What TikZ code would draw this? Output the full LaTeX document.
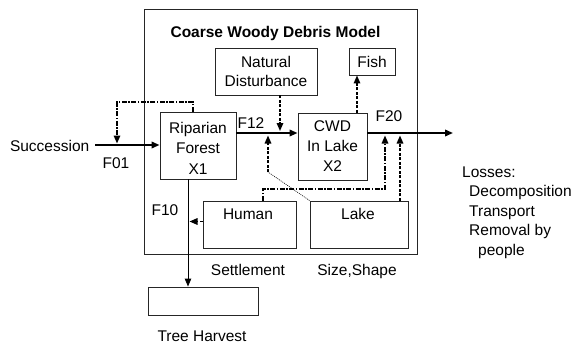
\documentclass[tikz,border=0pt]{standalone}
\usepackage{fontspec}
\setmainfont{Liberation Sans}
\usetikzlibrary{arrows.meta,calc}
\begin{document}
\begin{tikzpicture}[x=1pt,y=-1pt,
  every node/.style={font=\fontsize{15.5}{20.5}\selectfont, inner sep=0pt},
  box/.style={draw=black!85, line width=0.9pt, align=center},
  tip/.style={-{Triangle[length=8pt,width=6.5pt]}},
  flow/.style={line width=1.9pt, tip},
  thinflow/.style={line width=0.9pt, tip},
  dsh/.style={line width=1.5pt, dash pattern=on 3pt off 1.5pt, tip},
  dashdot/.style={line width=1.5pt, dash pattern=on 5pt off 1.5pt on 1.5pt off 1.5pt, tip},
  thindots/.style={line width=0.6pt, dash pattern=on 1pt off 1pt}
]
\useasboundingbox (0,0) rectangle (573,343);

% boxes
\node[box, minimum width=273, minimum height=245] (outer) at (280.5,131.5) {};
\node[anchor=base, font=\fontsize{15.5}{20.5}\selectfont\bfseries] (title) at (275.5,37.7) {Coarse Woody Debris Model};
\node[box, minimum width=102, minimum height=47, font=\fontsize{15.5}{18.3}\selectfont] (nd) at (266,71.5) {Natural\\Disturbance};
\node[box, minimum width=46, minimum height=27] (fish) at (372,61.5) {Fish};
\node[box, minimum width=76, minimum height=67] (rip) at (198,145.5) {\rule{0pt}{16.7pt}Riparian\\Forest\\X1};
\node[box, minimum width=69, minimum height=67, font=\fontsize{15.5}{20}\selectfont] (cwd) at (332.5,146.5) {CWD\\In Lake\\X2};
\node[box, minimum width=93, minimum height=47] (human) at (249.5,224.5) {};
\node[anchor=base] (humant) at ([yshift=-19pt,xshift=-1.5pt]human.north) {Human};
\node[box, minimum width=98, minimum height=47] (lake) at (359,224.5) {};
\node[anchor=base] (laket) at ([yshift=-19pt,xshift=-1pt]lake.north) {Lake};
\node[box, minimum width=110, minimum height=28] (harvest) at (203,301) {};

% text labels
\node[anchor=base east] (succ) at (89.5,151.5) {Succession};
\node[anchor=base] (f01) at (116,168) {F01};
\node[anchor=base] (f12) at (251,128) {F12};
\node[anchor=base] (f20) at (389,121.7) {F20};
\node[anchor=base] (f10) at (165,215) {F10};
\node[anchor=base] (settle) at (248,275) {Settlement};
\node[anchor=base] (size) at (357,275) {Size,Shape};
\node[anchor=base] (treeh) at (202,341) {Tree Harvest};
\node[anchor=base west] (loss1) at (462,177) {Losses:};
\node[anchor=base west] (loss2) at (469,196.5) {Decomposition};
\node[anchor=base west] (loss3) at (469,216) {Transport};
\node[anchor=base west] (loss4) at (469,235.5) {Removal by};
\node[anchor=base west] (loss5) at (478,255) {people};

% coordinates
\coordinate (succY) at (100,145);
\coordinate (fbTop) at (117,102);
\coordinate (fbEnd) at (117,143.5);
\coordinate (f12y) at (250,133);
\coordinate (ndEnd) at (280,131);
\coordinate (dotBend) at (268,172);
\coordinate (dotEnd) at (268,135.5);
\coordinate (fishX) at (357,100);
\coordinate (out) at (453,133);
\coordinate (humBend) at (263,189);
\coordinate (humEnd) at (385,135.5);
\coordinate (lakeEnd) at (400,135.5);
\coordinate (f10X) at (188,230);
\coordinate (humLeftEnd) at (189.5,221.5);

% main flows
\draw[flow] ($(succ.east |- succY)+(5.5,0)$) -- (rip.west |- succY);
\draw[flow] (rip.east |- f12y) -- (cwd.west |- f12y);
\draw[flow] (cwd.east |- out) -- (out);
\draw[thinflow] (f10X |- rip.south) -- (f10X |- harvest.north);

% influences
\draw[dashdot] ([xshift=-5pt]rip.north) |- (fbTop) -- (fbEnd);
\draw[dsh] (ndEnd |- nd.south) -- (ndEnd);
\draw[thindots] (lake.north west) -- (dotBend);
\draw[dsh] (dotBend) -- (dotEnd);
\draw[dsh] (fishX |- cwd.north) -- (fishX |- fish.south);
\draw[dashdot] (humBend |- human.north) -- (humBend) -| (humEnd);
\draw[dsh] (lakeEnd |- lake.north) -- (lakeEnd);
\draw[dsh] (human.west |- humLeftEnd) -- (humLeftEnd);
\end{tikzpicture}
\end{document}
